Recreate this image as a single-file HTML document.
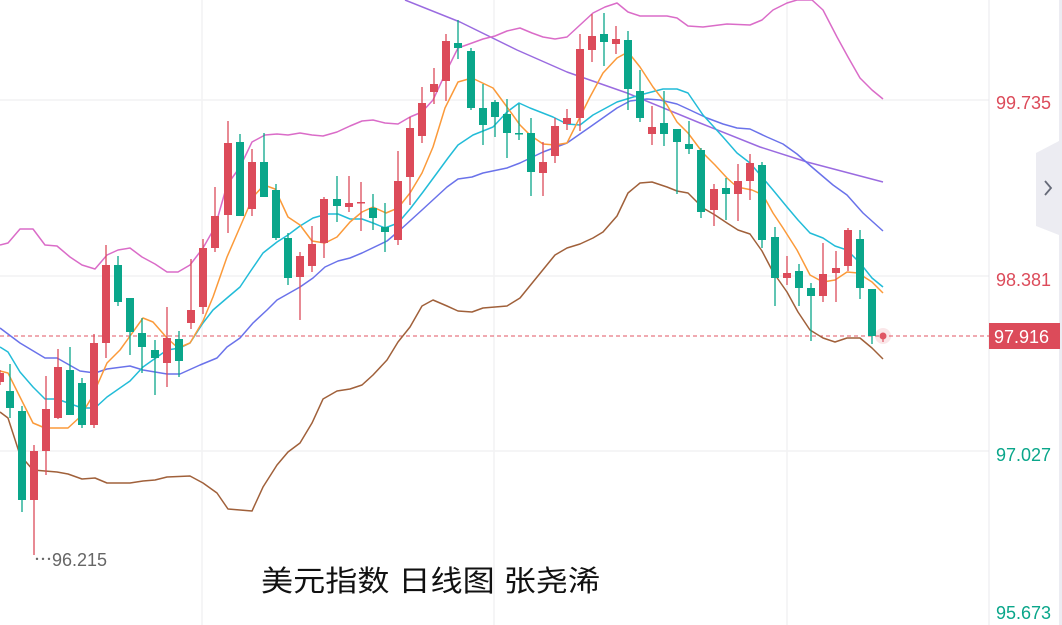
<!DOCTYPE html>
<html><head><meta charset="utf-8"><style>
html,body{margin:0;padding:0;background:#fff;width:1062px;height:625px;overflow:hidden}
svg{display:block}
text{font-family:"Liberation Sans","Noto Sans CJK SC",sans-serif}
</style></head><body>
<svg width="1062" height="625" viewBox="0 0 1062 625" xmlns="http://www.w3.org/2000/svg">
<rect width="1062" height="625" fill="#fff"/>
<g stroke="#f2f2f4" stroke-width="1.5">
<line x1="0" y1="100" x2="989" y2="100"/><line x1="0" y1="276" x2="989" y2="276"/><line x1="0" y1="451" x2="989" y2="451"/>
<line x1="202" y1="0" x2="202" y2="625"/><line x1="494" y1="0" x2="494" y2="625"/><line x1="787" y1="0" x2="787" y2="625"/>
</g>
<line x1="989" y1="0" x2="989" y2="625" stroke="#e8e8ee" stroke-width="1"/>
<rect x="1059" y="0" width="3" height="625" fill="#ececf2"/>
<line x1="0" y1="336" x2="989" y2="336" stroke="#e05563" stroke-width="1" stroke-dasharray="4,3"/>
<g fill="none" stroke-width="1.5" stroke-linejoin="round">
<polyline stroke="#9a6be0" points="405,0 460,22 517,50 567,72 627,93 700,123 760,147 807,162 883,182"/>
<polyline stroke="#da6cc8" points="0,245 8,243 20,229 33,229 45,245 57,246 70,257 82,265 95,269 107,255 118,250 130,248 142,257 155,264 167,272 178,272 190,265 203,248 215,227 227,185 240,167 252,142 265,135 277,134 288,135 300,133 312,135 323,136 337,132 350,126 362,121 373,120 385,123 398,124 410,117 422,112 433,100 447,70 458,48 472,43 483,39 495,36 507,31 520,28 532,33 543,37 555,39 567,37 580,25 593,13 605,7 617,3 628,12 640,16 667,16 677,18 688,26 703,27 727,24 750,25 762,20 773,10 787,3 797,0 812,0 823,10 837,37 848,57 860,78 872,90 883,99"/>
<polyline stroke="#a0603a" points="0,412 8,418 20,455 33,470 57,472 68,474 82,479 95,478 107,483 130,483 143,481 155,480 167,477 190,476 203,483 217,493 228,509 252,511 263,487 277,465 288,452 300,443 312,423 323,399 337,391 350,389 362,385 373,375 387,360 398,342 410,327 422,306 433,300 447,306 458,311 472,312 483,308 507,306 520,298 533,282 555,255 567,248 580,244 593,238 603,232 617,216 628,193 640,183 652,182 667,187 677,191 688,193 703,208 715,215 727,223 738,230 750,234 762,251 773,272 787,292 798,312 810,330 823,338 835,342 847,338 860,338 872,348 883,359"/>
<polyline stroke="#6a72ea" points="0,328 20,343 45,358 57,358 80,371 95,373 107,369 130,366 143,370 167,374 180,374 200,365 217,358 227,347 240,338 253,323 267,310 277,300 300,287 313,278 325,267 338,261 350,258 362,253 387,241 400,230 422,210 447,187 458,179 472,177 483,173 507,168 520,163 543,152 567,143 590,127 617,108 630,101 647,99 660,100 677,104 690,110 707,118 723,124 737,128 750,129 767,137 783,144 797,154 813,168 833,185 847,195 863,213 883,231"/>
<polyline stroke="#22bcd8" points="0,347 8,352 20,372 33,387 45,399 57,399 82,408 95,408 107,397 130,381 143,367 167,350 180,348 190,343 203,323 213,310 227,298 240,287 250,272 263,253 277,242 288,235 300,226 313,218 327,214 338,214 350,219 362,219 373,223 385,228 398,223 410,209 423,192 437,173 448,158 458,145 473,135 493,127 507,112 519,103 530,108 553,117 567,124 580,125 593,115 617,102 640,95 663,89 677,89 688,93 703,115 723,137 737,153 750,163 762,177 773,190 787,207 798,220 810,233 823,238 835,246 847,250 860,263 872,278 883,287"/>
<polyline stroke="#fb9a3a" points="0,371 8,373 20,397 33,423 45,428 68,428 80,417 92,397 107,363 120,350 143,318 153,322 167,338 178,348 190,343 203,321 213,297 227,257 240,227 253,197 264,185 275,189 288,217 300,225 312,241 325,243 337,237 350,222 362,212 373,207 386,213 398,208 410,193 422,173 433,147 445,108 458,82 472,78 493,88 507,107 520,125 530,135 543,144 555,145 567,143 580,117 590,97 603,73 617,58 628,52 640,67 653,87 667,105 677,122 688,133 703,153 715,165 727,178 737,187 752,190 763,195 773,213 783,228 797,250 810,275 823,282 835,280 847,272 858,273 872,282 883,293"/>
</g>
<g id="c"></g>
<circle cx="883" cy="336" r="8" fill="#e05563" opacity="0.15"/>
<circle cx="883" cy="336" r="3.5" fill="#e05563"/>
<line x1="883" y1="336" x2="883" y2="342" stroke="#e05563" stroke-width="1.2"/>
<text x="34" y="566" font-size="18" fill="#666">⋯96.215</text>
<text x="261" y="591" font-size="29" fill="#111" textLength="339" lengthAdjust="spacingAndGlyphs">美元指数 日线图 张尧浠</text>
<text x="996" y="109" font-size="18" fill="#dc4b5a">99.735</text>
<text x="996" y="286" font-size="18" fill="#dc4b5a">98.381</text>
<rect x="989" y="323" width="71" height="26" fill="#dc4b5a"/>
<text x="994" y="343" font-size="18" fill="#fff">97.916</text>
<text x="996" y="461" font-size="18" fill="#0aa68a">97.027</text>
<text x="996" y="619" font-size="18" fill="#0aa68a">95.673</text>
<polygon points="1036,153 1059,141 1059,235 1036,226" fill="#ececf2"/>
<polyline points="1045,181 1051,188 1045,195" fill="none" stroke="#666a78" stroke-width="1.8"/>
</svg>
<script>
var d=[[0,'r',373,382,370,385],[10,'g',391,408,364,418],[22,'g',411,500,406,512],[34,'r',451,500,445,555],[46,'r',409,451,376,475],[58,'r',367,418,349,419],[70,'g',370,415,347,415],[82,'g',383,425,378,428],[94,'r',343,425,334,428],[106,'r',265,343,245,358],[118,'g',265,302,256,306],[130,'g',298,332,298,355],[142,'g',333,347,318,373],[155,'g',350,358,340,395],[167,'r',338,363,307,387],[179,'g',339,361,331,377],[191,'r',310,323,259,329],[203,'r',248,307,239,314],[215,'r',216,248,187,252],[228,'r',143,215,121,233],[240,'g',142,216,134,216],[252,'r',162,209,149,216],[264,'g',162,197,133,197],[276,'g',190,238,184,240],[288,'g',238,278,233,285],[300,'r',256,277,252,320],[312,'r',244,266,226,272],[324,'r',199,243,197,258],[337,'g',199,206,176,222],[349,'r',203,207,176,212],[361,'r',202,203,182,231],[373,'g',208,218,194,230],[385,'g',227,232,203,252],[398,'r',181,240,151,245],[410,'r',128,177,117,205],[422,'r',103,136,87,143],[434,'r',84,92,68,104],[446,'r',41,81,34,101],[458,'g',43,48,20,59],[471,'g',51,108,48,110],[483,'g',108,125,84,145],[495,'g',102,117,100,137],[507,'g',114,133,99,158],[519,'g',133,134,104,140],[531,'g',133,172,118,196],[543,'r',162,173,142,196],[555,'r',126,156,118,163],[567,'r',118,124,109,130],[580,'r',49,118,34,131],[592,'r',36,50,14,62],[604,'g',34,42,13,66],[616,'r',39,44,26,54],[628,'g',40,89,31,110],[640,'g',91,118,70,122],[652,'r',127,134,106,145],[664,'g',123,134,91,146],[677,'g',129,142,129,194],[689,'g',144,149,121,154],[701,'g',150,212,148,218],[714,'r',189,210,184,226],[726,'g',188,194,178,220],[738,'r',181,194,164,221],[750,'r',163,181,154,200],[762,'g',165,240,162,248],[775,'g',237,278,227,306],[787,'r',273,278,256,285],[799,'g',271,288,264,306],[811,'g',288,296,283,341],[823,'r',274,296,243,302],[836,'r',268,273,251,302],[848,'r',230,266,228,271],[860,'g',239,288,230,299],[872,'g',289,336,289,344]];
var s='';
d.forEach(function(c){var col=c[1]=='r'?'#dc4b5a':'#0aa68a';var h=Math.max(c[3]-c[2],1.5);
s+='<line x1="'+c[0]+'" y1="'+c[4]+'" x2="'+c[0]+'" y2="'+c[5]+'" stroke="'+col+'" stroke-width="1.3"/>';
s+='<rect x="'+(c[0]-4)+'" y="'+c[2]+'" width="8" height="'+h+'" fill="'+col+'"/>';});
document.getElementById('c').innerHTML=s;
</script>
</body></html>
